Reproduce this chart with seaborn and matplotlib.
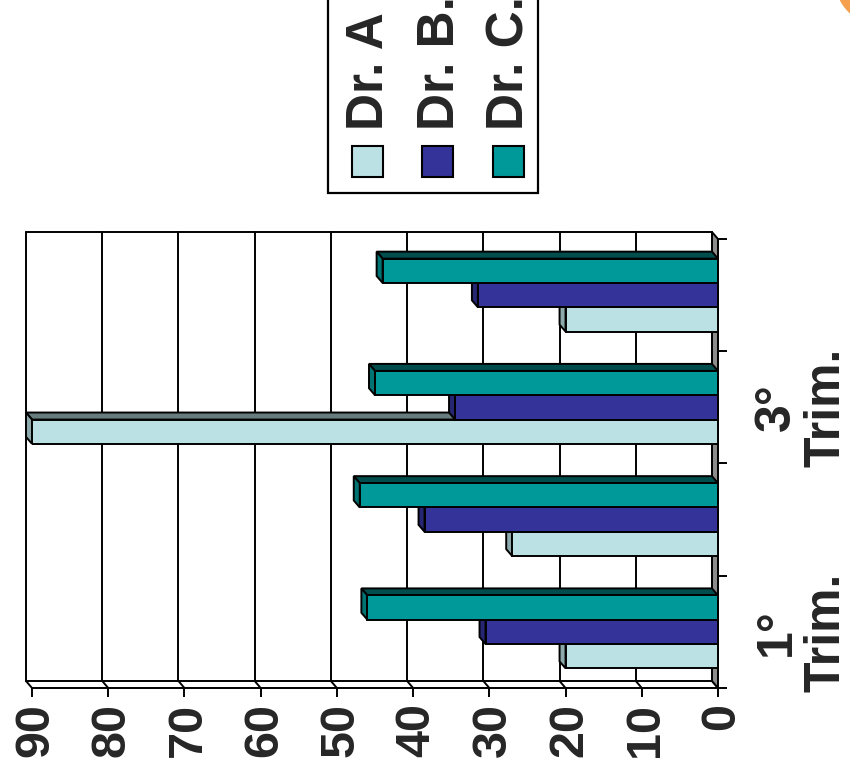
import numpy as np
import pandas as pd
import seaborn as sns
import matplotlib.pyplot as plt
import matplotlib.colors as mcolors
from matplotlib.patches import Polygon, Rectangle, Circle
from matplotlib.ticker import FixedLocator
from matplotlib import transforms

# data
categories = ["1°\nTrim.", "2°\nTrim.", "3°\nTrim.", "4°\nTrim."]
shown_labels = ["1°\nTrim.", "", "3°\nTrim.", ""]
doctors = ["Dr. A", "Dr. B.", "Dr. C."]
dr_a = [20, 27, 90, 20]
dr_b = [30.5, 38.5, 34.5, 31.5]
dr_c = [46, 47, 45, 44]
value_ticks = [0, 10, 20, 30, 40, 50, 60, 70, 80, 90]

colors = ["#BCE1E4", "#333399", "#009999"]

df = pd.DataFrame({
    "trim": categories * 3,
    "doctor": np.repeat(doctors, len(categories)),
    "value": dr_a + dr_b + dr_c,
})

sns.set_style("white")
plt.rcParams["font.family"] = ["Liberation Sans", "DejaVu Sans"]
plt.rcParams["font.weight"] = "bold"

W, H = 850, 776
fig = plt.figure(figsize=(W / 100, H / 100), dpi=100)
ax = fig.add_axes([32 / W, 1 - 688 / H, 686 / W, 449 / H])
# pixel coords measured from top-left of the figure
px = transforms.Affine2D().scale(1 / W, -1 / H).translate(0, 1) + fig.transFigure

lw = 1.4
sns.barplot(data=df, y="trim", x="value", hue="doctor", order=categories,
            hue_order=doctors, palette=colors, width=0.65, orient="h",
            edgecolor="black", linewidth=lw, saturation=1, legend=False, ax=ax)

ax.set_xlim(90, 0)
ax.set_ylim(-0.5, 3.5)
ax.set_xlabel("")
ax.set_ylabel("")

# 3d look: depth goes up-left by a few pixels
dx, dy = -6, 7
to_disp = ax.transData.transform
to_data = ax.transData.inverted().transform


def back(pts):
    return to_data(to_disp(np.asarray(pts, dtype=float)) + [dx, dy])


def shade(c, f):
    r, g, b, _ = mcolors.to_rgba(c)
    return (r * f, g * f, b * f)


rgba = [mcolors.to_rgba(c) for c in colors]
for p in list(ax.patches):
    fc = p.get_facecolor()
    i = int(np.argmin([sum((a - b) ** 2 for a, b in zip(fc[:3], c[:3])) for c in rgba]))
    v = p.get_x() + p.get_width()
    y0 = p.get_y()
    y1 = y0 + p.get_height()
    z = 3 + i * 0.1
    p.set_zorder(z + 0.05)
    top = [(0, y1), (v, y1)]
    top = top + list(back(top[::-1]))
    end = [(v, y0), (v, y1)]
    end = end + list(back(end[::-1]))
    ax.add_patch(Polygon(top, closed=True, facecolor=shade(colors[i], 0.5 if i else 0.55),
                         edgecolor="black", linewidth=lw, zorder=z, clip_on=False))
    ax.add_patch(Polygon(end, closed=True, facecolor=shade(colors[i], 0.75),
                         edgecolor="black", linewidth=lw, zorder=z, clip_on=False))

# back wall grid and frame
lo, hi = -0.5, len(categories) - 0.5
for g in value_ticks:
    b = back([(g, lo), (g, hi)])
    ax.plot(b[:, 0], b[:, 1], color="black", lw=lw, zorder=1, clip_on=False)
    d = np.vstack([[g, lo], back([(g, lo)])])
    ax.plot(d[:, 0], d[:, 1], color="black", lw=lw, zorder=1, clip_on=False)
for yy in (lo, hi):
    b = back([(value_ticks[-1], yy), (0, yy)])
    ax.plot(b[:, 0], b[:, 1], color="black", lw=lw, zorder=1, clip_on=False)

wall = [(0, lo), (0, hi)]
wall = wall + list(back(wall[::-1]))
ax.add_patch(Polygon(wall, closed=True, facecolor="#8C8C8C", edgecolor="black",
                     linewidth=lw, zorder=1.5, clip_on=False))

for s in ["top", "left"]:
    ax.spines[s].set_visible(False)
for s in ["bottom", "right"]:
    ax.spines[s].set_color("black")
    ax.spines[s].set_linewidth(lw)

# value axis
ax.set_xticks(value_ticks)
ax.set_xticklabels([str(t) for t in value_ticks], rotation=90, fontsize=35,
                   fontweight="bold")
ax.tick_params(axis="x", bottom=True, direction="out", length=6.5, width=lw,
               color="black", pad=4.5)
for lab in ax.get_xticklabels():
    lab.set_transform(lab.get_transform() + transforms.ScaledTranslation(4 / 100, 0, fig.dpi_scale_trans))

# category axis on the right
ax.yaxis.tick_right()
ax.set_yticks(range(len(categories)))
ax.set_yticklabels(shown_labels, rotation=90, fontsize=36, fontweight="bold",
                   va="center", ha="left", multialignment="center", linespacing=1.1)
ax.yaxis.set_minor_locator(FixedLocator(np.arange(lo, hi + 0.01, 1.0)))
ax.tick_params(axis="y", which="major", length=0, pad=26, left=False, right=True)
ax.tick_params(axis="y", which="minor", length=6.5, width=lw, direction="out",
               color="black", left=False, right=True)

# legend, turned like the rest of the chart
fig.add_artist(Rectangle((328, -20), 210, 213, transform=px, facecolor="white",
                         edgecolor="black", linewidth=1.6, clip_on=False))
for i, name in enumerate(doctors):
    x0 = 352 + i * 70.5
    fig.add_artist(Rectangle((x0, 146), 31, 31, transform=px, facecolor=colors[i],
                             edgecolor="black", linewidth=1.5))
    fig.text((x0 + 31) / W, 1 - 130 / H, name, rotation=90, rotation_mode="anchor",
             ha="left", va="baseline", fontsize=37, fontweight="bold")

# orange shape peeking in the corner
fig.add_artist(Circle((880, -20), 45, transform=px, facecolor="#F5A04E",
                      edgecolor="none"))

fig.savefig("out.png", dpi=100)
